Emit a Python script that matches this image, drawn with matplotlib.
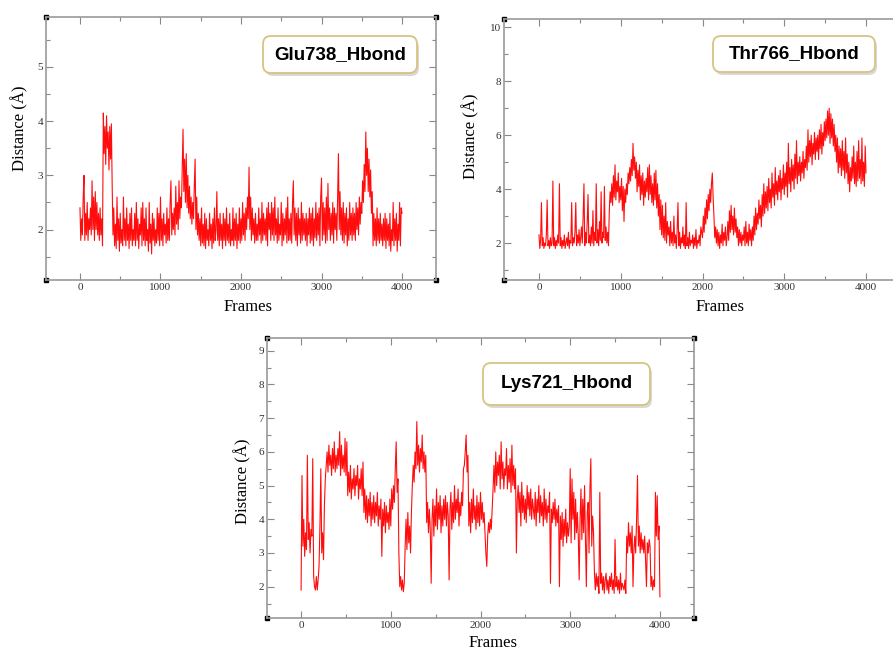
import matplotlib
matplotlib.use("Agg")
import matplotlib.pyplot as plt
import matplotlib.patches as mpatches
import matplotlib.transforms as mtransforms
from matplotlib.ticker import MultipleLocator
import numpy as np

# Distances, one value every 10 frames (0..4000)
step = 10

glu738 = [2.4, 1.8, 2.2, 1.9, 2.6, 3.0, 1.8, 2.3, 1.9, 2.5, 1.8, 2.2, 2.0, 2.4, 1.9, 2.9, 2.0, 2.6, 1.8, 2.7,
          2.0, 2.5, 1.9, 2.3, 1.8, 2.4, 1.9, 2.2, 1.7, 4.15, 3.4, 3.9, 3.2, 4.1, 3.5, 3.8, 3.1, 3.9, 3.3, 3.95,
          2.8, 1.9, 2.4, 1.7, 2.1, 1.65, 2.6, 1.8, 2.2, 1.6, 2.3, 1.75, 2.0, 1.7, 2.6, 1.8, 2.2, 1.7, 2.4, 1.8,
          2.1, 1.65, 2.3, 1.8, 2.4, 1.7, 2.0, 1.8, 2.3, 1.7, 2.5, 1.8, 2.2, 1.65, 2.1, 1.9, 2.4, 1.7, 2.5, 1.8,
          2.2, 1.7, 2.4, 1.8, 2.0, 1.6, 2.5, 1.75, 2.1, 1.55, 2.3, 1.8, 2.2, 1.7, 2.0, 1.75, 2.4, 1.8, 2.3, 1.7,
          2.6, 1.8, 2.2, 1.7, 2.3, 1.9, 2.1, 1.75, 2.4, 1.8, 2.2, 1.8, 2.5, 2.9, 1.9, 2.3, 2.0, 2.4, 1.9, 2.8,
          2.1, 2.5, 2.0, 2.9, 2.2, 2.6, 2.4, 3.1, 3.85, 2.7, 3.3, 2.5, 3.4, 2.4, 3.0, 2.3, 2.8, 2.2, 2.6, 2.1,
          2.5, 2.2, 2.8, 3.3, 2.0, 2.6, 1.9, 2.3, 1.8, 2.2, 1.7, 2.4, 1.75, 2.1, 1.7, 2.3, 1.65, 2.2, 1.8, 2.0,
          1.7, 2.3, 1.8, 2.1, 1.65, 2.2, 1.75, 2.4, 1.8, 2.0, 2.7, 1.8, 2.2, 1.7, 2.3, 1.8, 2.1, 1.65, 2.3, 1.8,
          2.2, 1.7, 2.4, 1.8, 2.1, 1.75, 2.3, 1.7, 2.0, 1.8, 2.4, 1.7, 2.2, 1.8, 2.3, 1.65, 2.1, 1.8, 2.4, 1.75,
          2.2, 1.8, 2.5, 1.9, 2.3, 1.8, 2.4, 2.0, 2.6, 2.2, 3.15, 2.0, 2.6, 1.8, 2.4, 1.9, 2.2, 1.75, 2.3, 1.8,
          2.1, 1.8, 2.4, 1.9, 2.2, 1.75, 2.5, 1.8, 2.3, 1.9, 2.2, 1.8, 2.4, 1.7, 2.5, 2.0, 2.3, 1.8, 2.5, 1.9,
          2.4, 1.8, 2.6, 1.9, 2.2, 1.75, 2.4, 1.8, 2.1, 1.9, 2.5, 1.7, 2.3, 1.8, 2.2, 1.9, 2.4, 1.75, 2.6, 1.8,
          2.2, 1.8, 2.3, 1.75, 2.5, 2.9, 1.9, 2.4, 1.8, 2.3, 1.7, 2.4, 1.9, 2.2, 1.75, 2.5, 1.8, 2.3, 1.9, 2.2,
          1.8, 2.3, 1.7, 2.2, 1.9, 2.4, 1.75, 2.3, 1.8, 2.4, 1.7, 2.2, 1.85, 2.5, 1.8, 2.3, 1.9, 2.4, 1.7, 2.6,
          2.95, 1.8, 2.5, 1.9, 2.4, 1.75, 2.6, 1.8, 2.85, 2.0, 2.4, 1.8, 2.3, 1.9, 2.5, 1.75, 2.4, 2.0, 2.3, 1.8,
          2.6, 3.4, 2.0, 2.7, 1.9, 2.4, 1.8, 2.5, 1.75, 2.3, 1.9, 2.4, 1.7, 2.2, 1.8, 2.5, 1.9, 2.3, 1.8, 2.4,
          1.9, 2.3, 1.8, 2.5, 2.0, 2.4, 1.9, 2.6, 2.1, 2.5, 2.3, 2.9, 2.5, 3.2, 2.7, 3.8, 3.0, 3.5, 2.7, 3.3,
          2.6, 3.1, 2.3, 2.7, 1.7, 2.3, 1.8, 2.2, 1.7, 2.4, 1.8, 2.2, 1.75, 2.3, 1.8, 2.1, 1.7, 2.2, 1.8, 2.3,
          1.65, 2.2, 1.8, 2.1, 1.7, 2.3, 1.6, 2.0, 1.8, 2.5, 1.7, 2.2, 1.8, 2.3, 1.6, 2.1, 1.8, 2.5, 1.7, 2.4,
          2.3]

thr766 = [2.3, 1.8, 2.1, 3.5, 1.9, 2.2, 1.8, 2.0, 1.9, 2.3, 3.6, 1.9, 2.1, 1.8, 2.2, 1.9, 2.0, 4.3, 1.9, 2.2,
          1.8, 2.1, 1.9, 2.3, 2.0, 4.2, 1.9, 2.2, 1.8, 2.1, 1.9, 2.3, 1.8, 2.0, 2.2, 1.9, 2.4, 1.8, 2.1, 2.0,
          3.5, 1.9, 2.2, 2.0, 2.4, 3.5, 1.9, 2.3, 2.0, 2.5, 1.9, 2.2, 2.6, 2.0, 3.0, 4.2, 1.9, 2.4, 2.0, 2.8,
          3.8, 2.0, 2.3, 1.9, 2.6, 2.0, 3.2, 1.9, 2.4, 2.1, 4.2, 2.0, 2.5, 1.9, 2.8, 2.1, 3.9, 2.0, 2.4, 2.2,
          4.1, 2.1, 2.6, 2.0, 2.4, 1.9, 3.2, 3.9, 3.5, 4.2, 3.4, 4.5, 3.7, 4.9, 3.6, 4.3, 3.9, 4.6, 3.5, 4.1,
          3.6, 4.4, 3.2, 4.1, 2.8, 4.0, 3.5, 4.2, 3.8, 4.6, 4.2, 4.8, 4.3, 5.1, 4.5, 5.7, 4.7, 5.2, 4.4, 5.0,
          3.9, 4.7, 4.1, 4.9, 3.6, 4.5, 3.8, 4.6, 3.4, 4.3, 3.7, 4.4, 3.9, 4.8, 3.6, 4.9, 3.8, 4.5, 3.5, 4.2,
          3.4, 4.6, 3.6, 4.7, 3.3, 4.2, 3.0, 3.8, 2.5, 3.6, 2.3, 3.4, 2.2, 3.0, 2.1, 3.5, 2.0, 2.8, 2.3, 2.6,
          1.9, 2.8, 2.0, 2.4, 1.9, 3.0, 2.0, 2.3, 1.8, 2.5, 3.5, 1.9, 2.4, 1.8, 2.2, 2.0, 2.6, 1.9, 2.3, 1.8,
          3.5, 1.9, 2.2, 1.8, 2.4, 1.9, 2.1, 2.0, 2.3, 1.8, 2.2, 1.9, 2.5, 1.8, 2.1, 2.0, 2.3, 1.9, 2.6, 2.4,
          2.2, 3.0, 2.4, 3.3, 2.7, 3.6, 2.9, 3.8, 3.2, 4.0, 3.5, 4.2, 4.6, 3.7, 3.0, 2.2, 2.6, 2.0, 2.5, 1.9,
          2.4, 1.8, 2.3, 2.0, 2.7, 1.9, 2.4, 2.1, 2.6, 1.9, 2.2, 2.8, 2.1, 3.2, 2.4, 3.4, 2.5, 3.0, 2.3, 3.3,
          2.4, 2.9, 2.2, 2.6, 1.9, 2.5, 2.0, 2.4, 1.9, 2.3, 2.1, 2.6, 1.9, 2.8, 2.0, 2.4, 1.9, 2.7, 2.1, 2.5,
          1.9, 2.6, 2.1, 3.0, 2.3, 3.3, 2.5, 3.1, 2.7, 3.6, 2.9, 3.4, 2.6, 3.8, 3.0, 4.2, 3.1, 3.9, 3.3, 4.1,
          3.2, 4.4, 3.5, 4.0, 3.3, 4.6, 3.7, 4.2, 3.4, 4.8, 3.8, 4.3, 3.6, 4.5, 3.9, 4.7, 3.6, 4.4, 4.0, 4.9,
          3.8, 4.6, 4.1, 5.0, 3.7, 5.7, 4.2, 4.8, 3.9, 5.1, 4.3, 4.9, 4.0, 5.3, 4.4, 5.8, 4.2, 5.0, 4.5, 5.2,
          4.3, 5.0, 4.6, 5.4, 4.4, 5.1, 4.8, 5.6, 4.7, 6.2, 5.0, 5.8, 5.2, 6.0, 4.9, 5.7, 5.3, 6.1, 5.1, 5.9,
          5.4, 6.0, 5.1, 6.2, 5.5, 6.4, 5.3, 6.1, 5.6, 6.5, 5.8, 6.6, 5.9, 6.9, 6.0, 7.0, 5.7, 6.8, 5.9, 6.6,
          5.6, 6.4, 5.4, 6.0, 5.0, 5.9, 4.6, 5.6, 4.8, 5.5, 4.5, 5.8, 4.7, 5.4, 4.4, 5.9, 4.6, 5.3, 4.2, 5.0,
          3.9, 4.8, 4.3, 5.2, 4.4, 5.6, 4.2, 5.0, 4.1, 5.4, 4.3, 5.8, 4.4, 5.1, 4.2, 5.9, 4.3, 5.0, 4.1, 5.6,
          4.6]

lys721 = [1.9, 5.3, 3.2, 4.0, 2.9, 3.6, 3.1, 5.9, 3.4, 3.9, 3.0, 3.7, 3.5, 5.8, 2.3, 2.0, 1.9, 2.3, 1.9, 2.2,
          2.6, 3.8, 5.5, 3.0, 3.6, 2.8, 4.4, 5.2, 5.6, 6.0, 5.4, 6.2, 5.6, 5.9, 5.3, 6.1, 5.5, 6.3, 5.4, 5.9,
          5.5, 6.1, 5.6, 6.6, 5.3, 6.2, 5.5, 5.9, 5.4, 6.4, 5.3, 6.3, 4.7, 5.4, 4.8, 5.6, 4.6, 5.2, 4.9, 5.5,
          4.7, 5.3, 5.0, 5.6, 4.6, 5.2, 4.9, 5.5, 4.7, 5.7, 4.2, 4.9, 4.0, 4.7, 3.9, 4.6, 4.1, 4.8, 3.8, 4.5,
          4.0, 4.7, 3.9, 4.5, 4.1, 4.8, 3.8, 4.4, 4.0, 4.6, 2.9, 4.3, 3.8, 4.5, 3.6, 4.4, 3.9, 4.2, 3.7, 4.6,
          3.8, 4.9, 4.3, 5.0, 4.5, 5.5, 6.3, 4.8, 5.2, 3.0, 2.0, 2.3, 1.9, 2.2, 1.85, 2.1, 3.2, 4.0, 3.1, 4.2,
          3.3, 3.8, 3.0, 4.2, 5.0, 5.6, 5.1, 6.0, 5.5, 6.9, 5.6, 6.2, 5.4, 6.1, 5.7, 6.5, 5.5, 6.0, 5.4, 5.9,
          3.9, 4.5, 3.6, 4.3, 3.7, 2.1, 4.0, 4.6, 3.5, 4.4, 3.8, 4.9, 3.7, 4.5, 4.0, 4.7, 3.6, 4.4, 3.8, 4.6,
          4.0, 4.7, 3.8, 4.5, 4.1, 2.2, 4.3, 4.8, 3.7, 4.5, 3.9, 5.0, 4.0, 4.6, 4.2, 4.9, 3.8, 4.5, 4.1, 4.8,
          4.4, 5.5, 5.6, 6.0, 6.5, 5.4, 5.9, 3.8, 4.5, 3.6, 4.6, 3.9, 4.9, 4.0, 4.4, 3.7, 4.7, 3.9, 4.5, 3.8,
          4.8, 4.0, 4.5, 3.9, 4.2, 3.6, 3.0, 2.6, 3.5, 3.9, 3.6, 4.0, 3.7, 4.3, 4.9, 5.6, 4.8, 6.0, 5.0, 5.7,
          5.3, 5.9, 4.9, 6.3, 5.2, 5.7, 4.9, 5.5, 5.3, 6.1, 4.9, 5.6, 5.1, 5.8, 4.8, 6.2, 5.0, 5.6, 4.9, 5.5,
          3.0, 4.6, 5.0, 4.2, 4.8, 3.8, 5.1, 4.2, 4.7, 4.0, 4.6, 3.9, 5.0, 4.3, 4.8, 4.1, 4.9, 4.0, 4.6, 4.3,
          4.0, 4.8, 3.8, 4.6, 4.2, 5.0, 3.9, 4.7, 4.1, 4.5, 3.8, 4.9, 4.0, 4.6, 3.9, 4.4, 4.2, 4.8, 2.1, 4.3,
          3.9, 4.5, 4.0, 4.6, 3.8, 4.3, 3.9, 4.4, 2.0, 4.1, 3.4, 4.2, 3.2, 4.0, 3.5, 4.3, 3.3, 3.9, 3.5, 3.8,
          5.5, 3.3, 5.2, 4.0, 4.8, 3.4, 4.6, 3.6, 4.2, 3.5, 2.2, 4.0, 4.9, 3.4, 4.6, 3.6, 5.0, 3.4, 2.0, 4.2,
          4.5, 3.0, 4.9, 5.8, 3.2, 4.1, 3.6, 2.4, 1.9, 2.4, 2.0, 2.3, 1.8, 4.8, 2.1, 2.4, 1.9, 2.3, 1.8, 2.2,
          2.4, 1.9, 2.2, 1.8, 2.3, 2.0, 2.4, 1.9, 2.2, 1.8, 3.4, 2.0, 2.3, 1.9, 2.2, 1.8, 2.4, 1.9, 2.1, 2.0,
          1.9, 2.2, 1.8, 3.5, 3.0, 3.9, 3.2, 3.6, 3.0, 3.8, 2.0, 3.1, 3.5, 3.0, 4.0, 5.3, 3.2, 3.8, 3.0, 3.6,
          3.1, 3.4, 3.0, 3.5, 2.8, 2.0, 3.3, 3.0, 3.4, 3.2, 2.0, 2.3, 1.9, 2.2, 2.0, 4.8, 3.5, 4.7, 3.4, 3.8,
          1.7]

titles = ["Glu738_Hbond", "Thr766_Hbond", "Lys721_Hbond"]
series = [glu738, thr766, lys721]

W, H = 893, 652
fig = plt.figure(figsize=(W / 100, H / 100), dpi=100)
plt.rcParams["font.family"] = ["Liberation Serif", "DejaVu Serif"]

# panel layout in pixels (left, top, right, bottom) plus limits and label spots
panels = [
    dict(box=(46, 17, 436, 280), xlim=(-422, 4422), ylim=(1.07, 5.92), ymaj=1, ymin=0.5,
         ylab=(20, 128), xlab=(248, 307), tbox=(263, 36, 417, 73)),
    dict(box=(504, 19, 901, 280), xlim=(-428, 4428), ylim=(0.63, 10.31), ymaj=2, ymin=1,
         ylab=(471, 136), xlab=(720, 307), tbox=(713, 36, 875, 72)),
    dict(box=(267, 338, 694, 618), xlim=(-380, 4380), ylim=(1.07, 9.38), ymaj=1, ymin=0.5,
         ylab=(243, 481), xlab=(493, 643), tbox=(483, 363, 650, 405)),
]

for p, vals, title in zip(panels, series, titles):
    l, t, r, b = p["box"]
    ax = fig.add_axes([l / W, (H - b) / H, (r - l) / W, (b - t) / H])
    frames = np.arange(len(vals)) * step
    ax.plot(frames, vals, color="#ff0000", lw=0.8, alpha=0.95)
    ax.set_xlim(*p["xlim"])
    ax.set_ylim(*p["ylim"])
    ax.xaxis.set_major_locator(MultipleLocator(1000))
    ax.xaxis.set_minor_locator(MultipleLocator(500))
    ax.yaxis.set_major_locator(MultipleLocator(p["ymaj"]))
    ax.yaxis.set_minor_locator(MultipleLocator(p["ymin"]))
    ax.tick_params(which="both", direction="in", top=True, right=True,
                   color="#888888", labelsize=8, labelcolor="#333333", pad=2)
    ax.tick_params(which="major", length=5, width=0.8)
    ax.tick_params(which="minor", length=3, width=0.8)
    for s in ax.spines.values():
        s.set_color("#999999")
        s.set_linewidth(1.2)
    # small black squares on the corners
    ax.plot([0, 1, 0, 1], [0, 0, 1, 1], "s", color="black", ms=3.5,
            transform=ax.transAxes, clip_on=False)

    fig.text(p["ylab"][0] / W, 1 - p["ylab"][1] / H, "Distance (Å)", rotation=90,
             ha="center", va="center", fontsize=12)
    fig.text(p["xlab"][0] / W, 1 - p["xlab"][1] / H, "Frames",
             ha="center", va="center", fontsize=12)

    # title box with shadow
    bx0, by0, bx1, by1 = p["tbox"]
    ident = mtransforms.IdentityTransform()
    shadow = mpatches.FancyBboxPatch((bx0 + 2, H - by1 - 3), bx1 - bx0, by1 - by0,
                                     boxstyle="round,pad=0,rounding_size=8",
                                     fc="#c8c8c8", ec="none", alpha=0.7, transform=ident)
    frame = mpatches.FancyBboxPatch((bx0, H - by1), bx1 - bx0, by1 - by0,
                                    boxstyle="round,pad=0,rounding_size=8",
                                    fc="white", ec="#d6c483", lw=1.3, transform=ident)
    fig.add_artist(shadow)
    fig.add_artist(frame)
    fig.text((bx0 + bx1) / 2 / W, 1 - (by0 + by1) / 2 / H, title, ha="center", va="center",
             fontsize=13.5, fontweight="bold", family=["Liberation Sans", "DejaVu Sans"])

fig.savefig("out.png", dpi=100)
